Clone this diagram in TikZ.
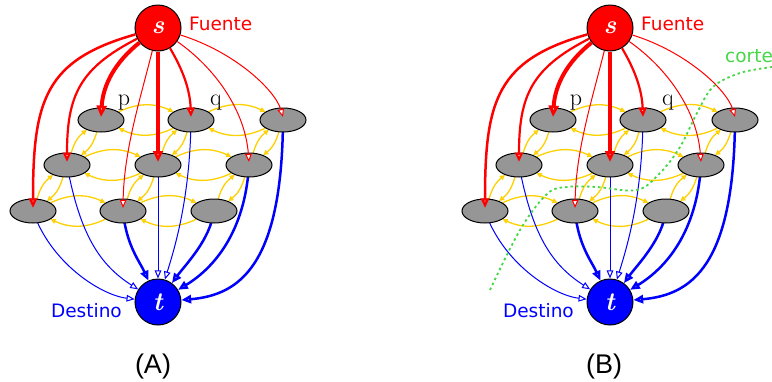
\documentclass[tikz,border=0pt]{standalone}
\usepackage{fontspec}
\newfontfamily\dejavu{DejaVu Sans}
\newfontfamily\libsans{Liberation Sans}
\usetikzlibrary{arrows.meta,shapes.geometric}
\definecolor{myred}{RGB}{255,0,0}
\definecolor{myblue}{RGB}{0,0,255}
\definecolor{myyel}{RGB}{255,208,0}
\definecolor{mygreen}{RGB}{70,215,70}
\definecolor{nodegray}{RGB}{150,150,150}
\pgfdeclarelayer{bg}
\pgfsetlayers{bg,main}
\tikzset{
  gridnode/.style={ellipse, draw=black, line width=1pt, fill=nodegray,
    minimum width=46pt, minimum height=24pt, inner sep=0pt},
  term/.style={circle, draw=black, line width=1pt, minimum size=46pt, inner sep=0pt,
    font=\fontsize{26}{26}\selectfont\bfseries\itshape, text=white},
  redarr/.style={draw=myred, line width=#1,
    -{Triangle[fill=white, length=7pt 1.1, width=5.5pt 1.1]}},
  bluearr/.style={draw=myblue, line width=#1,
    -{Triangle[fill=white, length=7pt 1.1, width=5.5pt 1.1]}},
  yelarr/.style={draw=myyel, line width=1.3pt,
    -{Triangle[fill=white, length=5pt, width=5pt]}},
  sanslab/.style={font=\fontsize{18.5}{20}\selectfont\dejavu, inner sep=0pt},
  panellab/.style={font=\fontsize{27}{30}\selectfont\libsans, inner sep=0pt},
  letterlab/.style={font=\fontsize{24}{24}\selectfont, inner sep=0pt},
  cutline/.style={draw=mygreen, line width=1.8pt, dash pattern=on 2.5pt off 3pt}
}
\newcommand\drawpanel[2]{%
  \begin{scope}[xshift=#2]
  % nodes
  \node[term, fill=myred] (#1s) at (158,28) {s};
  \node[term, fill=myblue] (#1t) at (158,302) {t};
  \node[gridnode] (#1T1) at (101,120) {};
  \node[gridnode] (#1T2) at (191,120) {};
  \node[gridnode] (#1T3) at (283,120) {};
  \node[gridnode] (#1M1) at (67,165) {};
  \node[gridnode] (#1M2) at (158,165) {};
  \node[gridnode] (#1M3) at (249,165) {};
  \node[gridnode] (#1B1) at (33,211) {};
  \node[gridnode] (#1B2) at (123,211) {};
  \node[gridnode] (#1B3) at (214,211) {};
  \node[letterlab, anchor=base] (#1p) at (124,105) {p};
  \node[letterlab, anchor=base] (#1q) at (216,105) {q};
  \node[sanslab, text=myred, anchor=base west] (#1fu) at (189,30) {Fuente};
  \node[sanslab, text=myblue, anchor=base east] (#1de) at (122,317) {Destino};
  % yellow and blue edges behind the nodes
  \begin{pgfonlayer}{bg}
    \foreach \a/\b in {T1/T2,T2/T3,M1/M2,M2/M3,B1/B2,B2/B3}{
      \draw[yelarr] (#1\a) to[bend left=25] (#1\b);
      \draw[yelarr] (#1\b) to[bend left=25] (#1\a);
    }
    \foreach \a/\b in {T1/M1,T2/M2,T3/M3,M1/B1,M2/B2,M3/B3}{
      \draw[yelarr] (#1\a) to[bend left=18] (#1\b);
      \draw[yelarr] (#1\b) to[bend left=18] (#1\a);
    }
    \draw[bluearr=1pt] (#1B1.center) .. controls (50,262) and (100,295) .. (#1t);
    \draw[bluearr=1pt] (#1M1.center) .. controls (80,235) and (100,265) .. (#1t);
    \draw[bluearr=2.5pt] (#1B2.center) .. controls (126,245) and (140,262) .. (#1t);
    \draw[bluearr=1pt] (#1M2.center) -- (#1t);
    \draw[bluearr=1pt] (#1T2.center) .. controls (190,200) and (174,250) .. (#1t);
    \draw[bluearr=2.5pt] (#1B3.center) .. controls (210,240) and (186,264) .. (#1t);
    \draw[bluearr=2.5pt] (#1M3.center) .. controls (245,232) and (214,268) .. (#1t);
    \draw[bluearr=2.5pt] (#1T3.center) .. controls (282,265) and (240,295) .. (#1t);
  \end{pgfonlayer}
  % red edges on top
  \draw[redarr=2.5pt] (#1s) .. controls (45,60) and (33,100) .. ([yshift=3pt]#1B1.center);
  \draw[redarr=2.2pt] (#1s) .. controls (80,68) and (67,95) .. ([yshift=3pt]#1M1.center);
  \draw[redarr=4pt] (#1s) .. controls (115,62) and (103,85) .. ([yshift=3pt]#1T1.center);
  \draw[redarr=1pt] (#1s) .. controls (140,100) and (124,150) .. ([yshift=3pt]#1B2.center);
  \draw[redarr=3.5pt] (#1s) -- ([yshift=3pt]#1M2.center);
  \draw[redarr=2.2pt] (#1s) .. controls (183,70) and (190,90) .. ([yshift=3pt]#1T2.center);
  \draw[redarr=1pt] (#1s) .. controls (215,68) and (245,110) .. ([yshift=3pt]#1M3.center);
  \draw[redarr=1pt] (#1s) .. controls (235,52) and (275,90) .. ([yshift=3pt]#1T3.center);
  \end{scope}
}
\begin{document}
\begin{tikzpicture}[x=1pt, y=-1pt]
  \useasboundingbox (0,0) rectangle (772,381);
  \drawpanel{A}{0pt}
  \drawpanel{B}{452pt}
  \node[panellab, anchor=base] (labA) at (153,373) {(A)};
  \node[panellab, anchor=base] (labB) at (604,373) {(B)};
  \draw[cutline] plot[smooth, tension=0.6] coordinates {(490,290) (520,230) (547,194) (567,187) (597,187) (637,190) (660,173) (680,147) (697,113) (713,87) (740,73) (772,67)};
  \node[sanslab, text=mygreen, anchor=base west] (corte) at (725,62) {corte};
\end{tikzpicture}
\end{document}
